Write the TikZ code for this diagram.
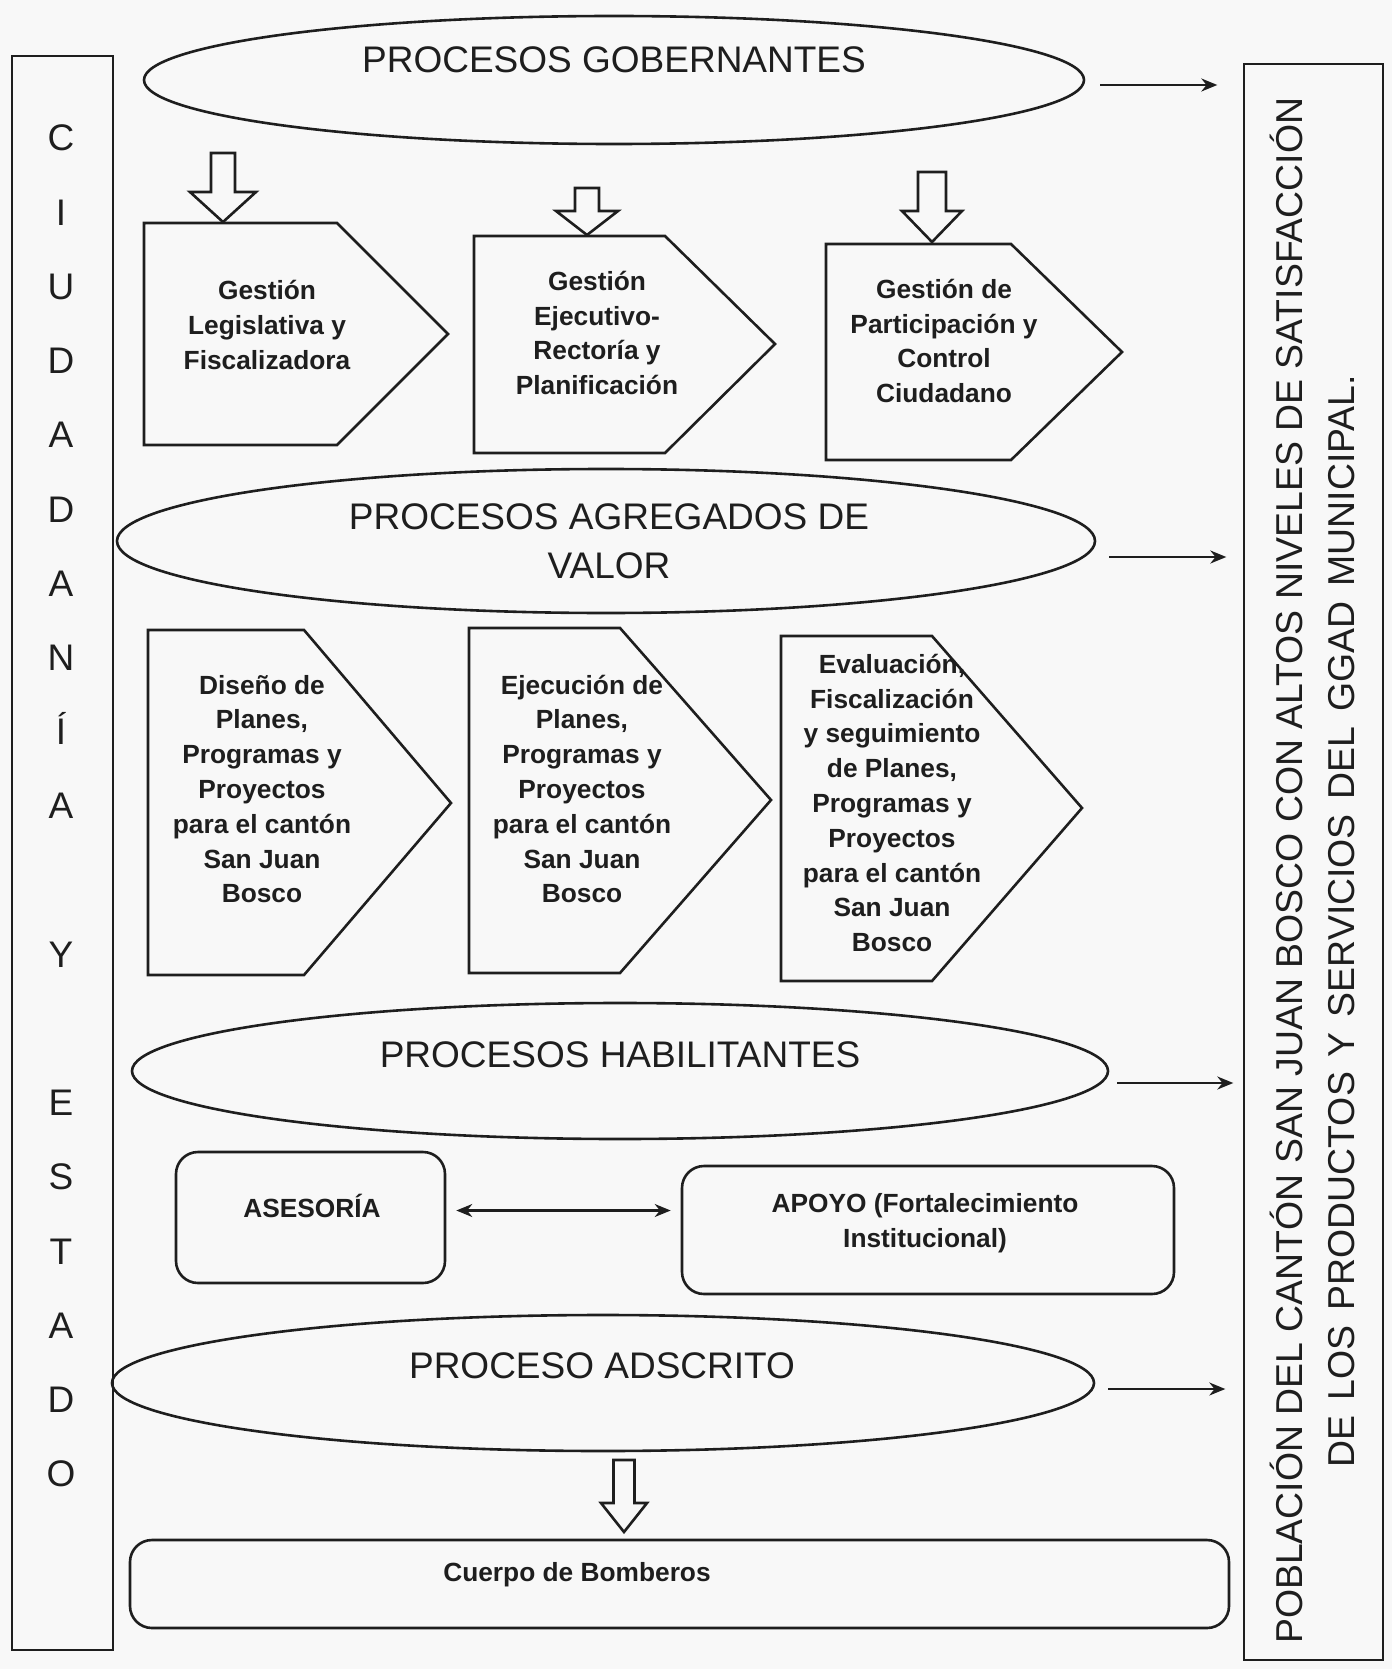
\documentclass[tikz,border=0pt]{standalone}
\usepackage{fontspec}
\setmainfont{Liberation Sans}
\usetikzlibrary{shapes.geometric,arrows.meta}
\definecolor{ink}{RGB}{30,30,30}
\definecolor{paper}{RGB}{248,248,248}
\tikzset{
  shp/.style={draw=ink, line width=2.6pt},
  ell/.style={shp, ellipse, inner sep=0pt},
  rbox/.style={shp, rounded corners=22pt, inner sep=0pt},
  sbox/.style={shp, inner sep=0pt},
  ttl/.style={font=\fontsize{37}{49}\selectfont, text=ink, inner sep=0pt},
  smalltxt/.style={font=\bfseries\fontsize{26.3}{34.8}\selectfont, text=ink, inner sep=0pt, align=center},
  lettr/.style={font=\fontsize{37}{44}\selectfont, text=ink, inner sep=0pt, anchor=base},
  thinarr/.style={draw=ink, line width=2.2pt, -{Stealth[length=16pt,width=13pt]}},
  dblarr/.style={draw=ink, line width=2.2pt, {Stealth[length=16pt,width=13pt]}-{Stealth[length=16pt,width=13pt]}},
  hollow/.style={draw=ink, line width=2.6pt, line join=miter},
}
\newcommand\pentshape[6]{% left top bottom corner tip tipy
  \draw[shp, line join=miter] (#1,#2) -- (#4,#2) -- (#5,#6) -- (#4,#3) -- (#1,#3) -- cycle;}
\newcommand\hollowarr[6]{% x top headstart tip shafthalf headhalf
  \draw[hollow] (#1-#5,#2) -- (#1+#5,#2) -- (#1+#5,#3) -- (#1+#6,#3) -- (#1,#4) -- (#1-#6,#3) -- (#1-#5,#3) -- cycle;}
\begin{document}
\begin{tikzpicture}[x=1pt,y=-1pt]
\fill[paper] (0,0) rectangle (1392,1669);
\useasboundingbox (0,0) rectangle (1392,1669);

% side boxes
\node[sbox, minimum width=101pt, minimum height=1594pt] (ciud) at (62.5,853) {};
\foreach \l/\k in {C/0,I/1,U/2,D/3,A/4,D/5,A/6,N/7,Í/8,A/9,Y/11,E/13,S/14,T/15,A/16,D/17,O/18}
  \node[lettr] (L\k) at (61,{151+74.2*\k}) {\l};

\node[sbox, minimum width=139pt, minimum height=1596pt] (pob) at (1313.5,862) {};
\node[ttl, font=\fontsize{37.4}{49}\selectfont, rotate=90, anchor=base west] (pob1) at (1302,1644)
  {POBLACIÓN DEL CANTÓN SAN JUAN BOSCO CON ALTOS NIVELES DE SATISFACCIÓN};
\node[ttl, font=\fontsize{37.4}{49}\selectfont, rotate=90, anchor=base] (pob2) at (1354,921)
  {\spaceskip=15pt\relax DE LOS PRODUCTOS Y SERVICIOS DEL GGAD MUNICIPAL.};

% ellipses
\node[ell, minimum width=940pt, minimum height=128pt] (e1) at (614,80) {};
\node[ttl, anchor=base] (t1) at (614,73) {PROCESOS GOBERNANTES};
\node[ell, minimum width=978pt, minimum height=144pt] (e2) at (606,541) {};
\node[ttl, align=center] (t2) at (609,541.5) {PROCESOS AGREGADOS DE\\VALOR};
\node[ell, minimum width=976pt, minimum height=136pt] (e3) at (620,1071) {};
\node[ttl, anchor=base] (t3) at (620,1067) {PROCESOS HABILITANTES};
\node[ell, minimum width=982pt, minimum height=136pt] (e4) at (603,1383) {};
\node[ttl, anchor=base] (t4) at (602,1378) {PROCESO ADSCRITO};

% arrows to the right box
\draw[thinarr] ([xshift=15pt,yshift=-5pt]e1.east) -- ++(117,0);
\draw[thinarr] ([xshift=13pt,yshift=-16pt]e2.east) -- ++(117,0);
\draw[thinarr] ([xshift=8pt,yshift=-12pt]e3.east) -- ++(116,0);
\draw[thinarr] ([xshift=13pt,yshift=-6pt]e4.east) -- ++(117,0);

% hollow arrows
\hollowarr{223}{153}{192}{222}{12}{33}
\hollowarr{587}{188}{211}{235}{12}{31}
\hollowarr{932}{172}{211}{242}{14}{30}
\hollowarr{624}{1460}{1503}{1532}{10.5}{23}

% governing pentagons
\pentshape{144}{223}{445}{337}{448}{334}
\pentshape{474}{236}{453}{665}{775}{344}
\pentshape{826}{244}{460}{1011}{1122}{352}
\node[smalltxt] (g1) at (267,325) {Gestión\\Legislativa y\\Fiscalizadora};
\node[smalltxt] (g2) at (597,333) {Gestión\\Ejecutivo-\\Rectoría y\\Planificación};
\node[smalltxt] (g3) at (944,341) {Gestión de\\Participación y\\Control\\Ciudadano};

% value pentagons
\pentshape{148}{630}{975}{304}{451}{803}
\pentshape{469}{628}{973}{620}{771}{800}
\pentshape{781}{636}{981}{932}{1082}{808}
\node[smalltxt] (v1) at (262,789) {Diseño de\\Planes,\\Programas y\\Proyectos\\para el cantón\\San Juan\\Bosco};
\node[smalltxt] (v2) at (582,789) {Ejecución de\\Planes,\\Programas y\\Proyectos\\para el cantón\\San Juan\\Bosco};
\node[smalltxt] (v3) at (892,803) {Evaluación,\\Fiscalización\\y seguimiento\\de Planes,\\Programas y\\Proyectos\\para el cantón\\San Juan\\Bosco};

% enabling boxes
\node[rbox, minimum width=269pt, minimum height=131pt] (ases) at (310.5,1217.5) {};
\node[smalltxt] (asest) at (312,1206) {ASESORÍA};
\node[rbox, minimum width=492pt, minimum height=128pt] (apoyo) at (928,1230) {};
\node[smalltxt] (apoyot) at (925,1223) {APOYO (Fortalecimiento\\Institucional)};
\draw[dblarr] ([xshift=10pt,yshift=7pt]ases.east) -- ([xshift=-10pt,yshift=7pt]ases.east -| apoyo.west);

% attached process box
\node[rbox, minimum width=1099pt, minimum height=88pt] (bomb) at (679.5,1584) {};
\node[smalltxt] (bombt) at (577,1575) {Cuerpo de Bomberos};
\end{tikzpicture}
\end{document}
